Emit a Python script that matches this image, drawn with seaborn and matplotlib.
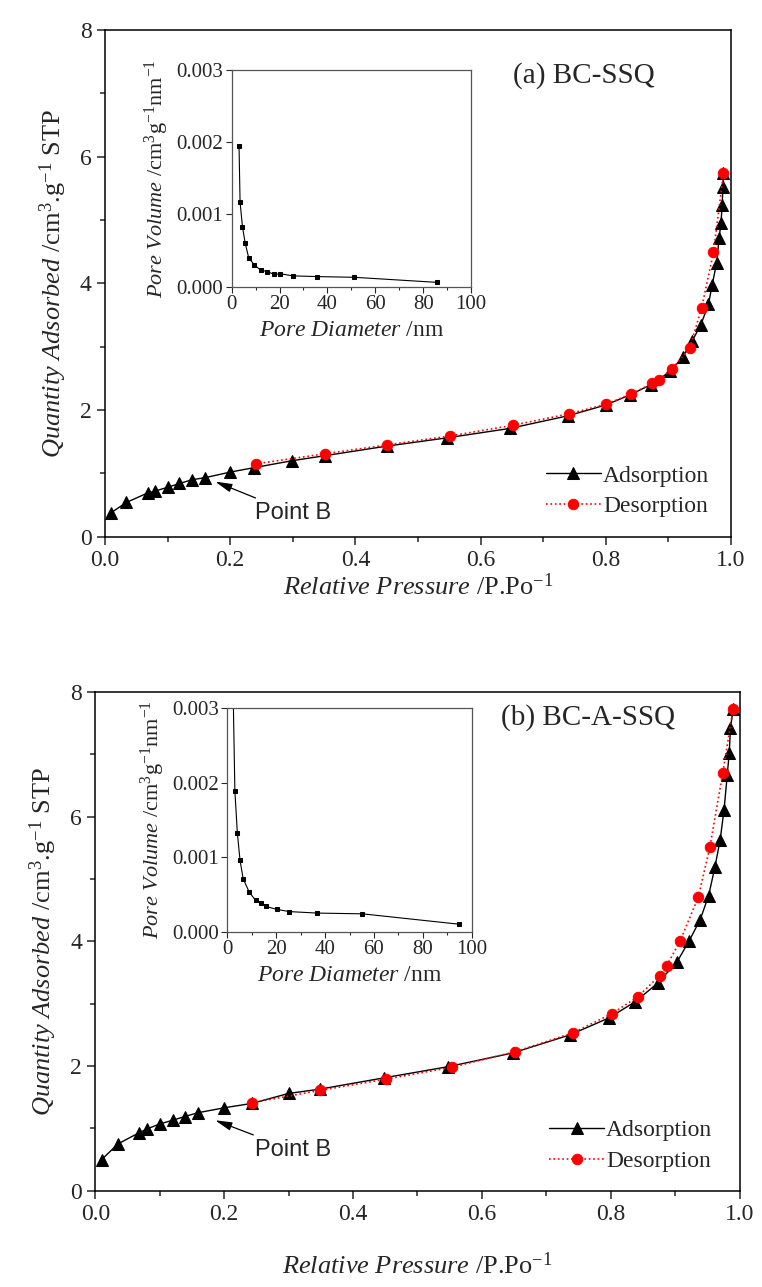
import matplotlib
matplotlib.use("Agg")
import matplotlib.pyplot as plt
from matplotlib.ticker import MultipleLocator, FormatStrFormatter
import seaborn as sns

# (a) BC-SSQ  -- N2 isotherm
p_ads_a = [0.010, 0.034, 0.068, 0.080, 0.100, 0.119, 0.139, 0.159, 0.200, 0.238, 0.299, 0.352,
           0.450, 0.546, 0.647, 0.740, 0.800, 0.839, 0.872, 0.903, 0.923, 0.938, 0.952, 0.964,
           0.970, 0.977, 0.981, 0.984, 0.986, 0.987, 0.988]
q_ads_a = [0.38, 0.54, 0.69, 0.72, 0.78, 0.84, 0.90, 0.93, 1.02, 1.09, 1.20, 1.28,
           1.43, 1.56, 1.71, 1.91, 2.08, 2.24, 2.40, 2.61, 2.84, 3.09, 3.35, 3.67,
           3.98, 4.32, 4.71, 4.96, 5.24, 5.52, 5.74]
p_des_a = [0.988, 0.972, 0.953, 0.934, 0.906, 0.885, 0.874, 0.840, 0.800, 0.741, 0.652, 0.551,
           0.451, 0.352, 0.241]
q_des_a = [5.74, 4.49, 3.61, 2.98, 2.65, 2.48, 2.42, 2.25, 2.09, 1.94, 1.76, 1.59,
           1.45, 1.31, 1.15]
# (a) pore size distribution (inset)
d_a = [3.06, 3.5, 4.5, 5.6, 7.1, 9.5, 12.1, 14.9, 17.7, 20.2, 25.5, 35.8, 51.3, 85.8]
v_a = [0.00195, 0.00117, 0.00083, 0.00061, 0.00040, 0.00030, 0.00023, 0.00021, 0.00017,
       0.00018, 0.00015, 0.00014, 0.00013, 0.00006]

# (b) BC-A-SSQ
p_ads_b = [0.010, 0.035, 0.068, 0.080, 0.100, 0.120, 0.139, 0.159, 0.200, 0.243, 0.300, 0.349,
           0.448, 0.548, 0.648, 0.737, 0.797, 0.838, 0.873, 0.903, 0.922, 0.939, 0.952, 0.962,
           0.970, 0.976, 0.981, 0.984, 0.986, 0.990]
q_ads_b = [0.50, 0.75, 0.93, 0.99, 1.07, 1.13, 1.19, 1.25, 1.33, 1.40, 1.56, 1.63,
           1.81, 1.99, 2.21, 2.50, 2.77, 3.03, 3.33, 3.67, 4.01, 4.35, 4.73, 5.20,
           5.63, 6.11, 6.67, 7.02, 7.42, 7.72]
p_des_b = [0.990, 0.974, 0.954, 0.936, 0.908, 0.887, 0.876, 0.842, 0.802, 0.741, 0.652, 0.553,
           0.452, 0.349, 0.243]
q_des_b = [7.72, 6.70, 5.51, 4.71, 4.01, 3.61, 3.45, 3.11, 2.84, 2.53, 2.23, 1.98,
           1.79, 1.61, 1.41]
d_b = [2.4, 3.1, 4.1, 5.2, 6.5, 9.0, 11.6, 13.8, 15.8, 20.2, 25.4, 36.8, 55.3, 95.0]
v_b = [0.0032, 0.00189, 0.00133, 0.00096, 0.00071, 0.00053, 0.00042, 0.00039, 0.00034,
       0.00030, 0.00027, 0.00025, 0.00024, 0.00010]

titles = ["(a) BC-SSQ", "(b) BC-A-SSQ"]
point_b = [(0.176, 0.87), (0.186, 1.13)]
point_b_text = [(0.240, 0.37), (0.248, 0.65)]

sns.set_style("ticks")
plt.rcParams["font.family"] = ["Liberation Serif", "DejaVu Serif"]
plt.rcParams["mathtext.fontset"] = "custom"
plt.rcParams["mathtext.rm"] = "Liberation Serif"
plt.rcParams["mathtext.it"] = "Liberation Serif:italic"
plt.rcParams["axes.linewidth"] = 1.1

W, H = 762, 1287
fig = plt.figure(figsize=(W / 100, H / 100), dpi=100)


def box(x0, x1, y0, y1):
    return [x0 / W, 1 - y1 / H, (x1 - x0) / W, (y1 - y0) / H]


def main_panel(ax, p_ads, q_ads, p_des, q_des, title, pb, pbt, title_y, xpad):
    sns.lineplot(x=p_ads, y=q_ads, ax=ax, sort=False, estimator=None, color="black",
                 lw=1.0, marker="^", markersize=9, markeredgecolor="black", label="Adsorption")
    sns.lineplot(x=p_des, y=q_des, ax=ax, sort=False, estimator=None, color="red",
                 lw=1.2, ls=":", marker="o", markersize=7.5, markeredgecolor="red", label="Desorption")
    ax.set_xlim(0, 1.0)
    ax.set_ylim(0, 8)
    ax.xaxis.set_major_locator(MultipleLocator(0.2))
    ax.xaxis.set_minor_locator(MultipleLocator(0.1))
    ax.yaxis.set_major_locator(MultipleLocator(2))
    ax.yaxis.set_minor_locator(MultipleLocator(1))
    ax.xaxis.set_major_formatter(FormatStrFormatter("%.1f"))
    ax.tick_params(which="major", direction="out", length=6, width=1.1, labelsize=17)
    ax.tick_params(which="minor", direction="out", length=3.5, width=1.1)
    for s in ax.spines.values():
        s.set_visible(True)
        s.set_color("black")
    ax.set_xlabel(r"$\it{Relative\ Pressure}$ /P.Po$^{-1}$", fontsize=19, labelpad=xpad)
    ax.set_ylabel(r"$\it{Quantity\ Adsorbed}$ /cm$^3$.g$^{-1}$ STP", fontsize=19, labelpad=8)
    ax.text(0.765, title_y, title, transform=ax.transAxes, fontsize=21, ha="center", va="center")
    ax.annotate("Point B", xy=pb, xytext=pbt, fontsize=17, family="Liberation Sans",
                ha="left", va="center",
                arrowprops=dict(arrowstyle="-|>,head_length=0.6,head_width=0.15", color="black", lw=0.9,
                                shrinkA=2, shrinkB=0))
    ax.legend(loc="center left", bbox_to_anchor=(0.705, 0.09), frameon=False, fontsize=17,
              handlelength=2.3, handletextpad=0.1, labelspacing=0.38, borderpad=0, borderaxespad=0)


def inset_panel(ax, d, v):
    sns.lineplot(x=d, y=v, ax=ax, sort=False, estimator=None, color="black", lw=0.8,
                 marker="s", markersize=2.2, markeredgecolor="black", legend=False)
    ax.set_xlim(0, 100)
    ax.set_ylim(0, 0.003)
    ax.xaxis.set_major_locator(MultipleLocator(20))
    ax.xaxis.set_minor_locator(MultipleLocator(10))
    ax.yaxis.set_major_locator(MultipleLocator(0.001))
    ax.yaxis.set_major_formatter(FormatStrFormatter("%.3f"))
    ax.tick_params(which="major", direction="out", length=4, width=0.8, labelsize=15, pad=2)
    ax.tick_params(which="minor", direction="out", length=2.5, width=0.8)
    for s in ax.spines.values():
        s.set_visible(True)
        s.set_color("#555555")
        s.set_linewidth(0.9)
    ax.set_xlabel(r"$\it{Pore\ Diameter}$ /nm", fontsize=17, labelpad=4)
    ax.set_ylabel(r"$\it{Pore\ Volume}$ /cm$^3$g$^{-1}$nm$^{-1}$", fontsize=16, labelpad=4)


ax_a = fig.add_axes(box(105, 731, 30, 536.7))
ax_b = fig.add_axes(box(95.3, 739.5, 692, 1190.7))
in_a = fig.add_axes(box(231.7, 471, 70, 286.7))
in_b = fig.add_axes(box(227.3, 471.7, 708.3, 931.7))

main_panel(ax_a, p_ads_a, q_ads_a, p_des_a, q_des_a, titles[0], point_b[0], point_b_text[0], 0.911, 2)
main_panel(ax_b, p_ads_b, q_ads_b, p_des_b, q_des_b, titles[1], point_b[1], point_b_text[1], 0.948, 20)
inset_panel(in_a, d_a, v_a)
inset_panel(in_b, d_b, v_b)

fig.savefig("out.png", dpi=100, facecolor="white")
